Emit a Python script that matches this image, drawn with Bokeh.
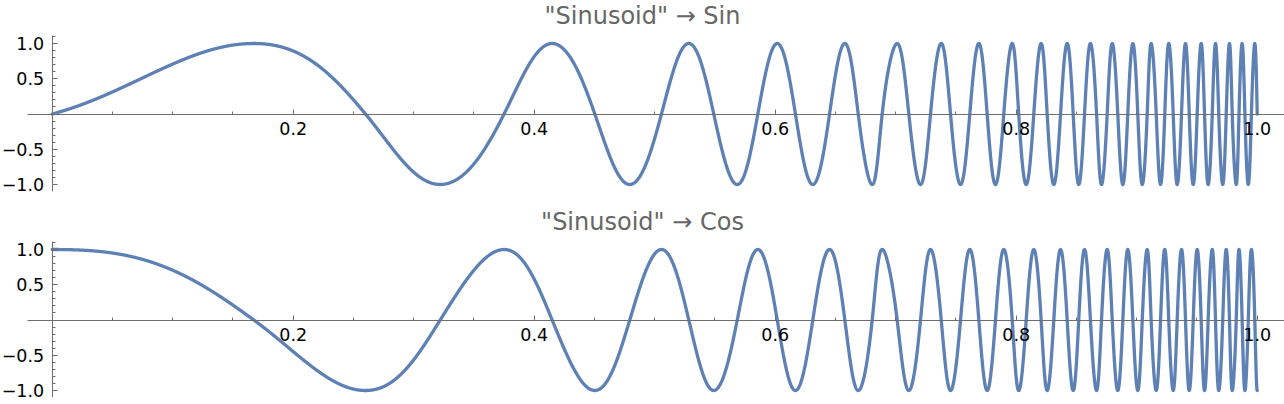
import numpy as np
from bokeh.plotting import figure
from bokeh.layouts import column
from bokeh.models import Range1d, FixedTicker, Label
from bokeh.embed import file_html
from bokeh.resources import INLINE

# ---- data ----
SIN_TITLE = '"Sinusoid" \u2192 Sin'
COS_TITLE = '"Sinusoid" \u2192 Cos'

# Sin panel: times of maxima, minima and zero crossings
SIN_PEAK_T = [0.1673, 0.4149, 0.5283, 0.6017, 0.6578, 0.7012, 0.7378, 0.7690,
              0.7967, 0.8207, 0.8423, 0.8616, 0.8797, 0.8968, 0.9120, 0.9266,
              0.9405, 0.9535, 0.9654, 0.9770, 0.9875, 0.9980]
SIN_TROUGH_T = [0.3220, 0.4793, 0.5685, 0.6312, 0.6805, 0.7206, 0.7538, 0.7828,
                0.8083, 0.8312, 0.8519, 0.8708, 0.8885, 0.9046, 0.9198, 0.9336,
                0.9469, 0.9593, 0.9714, 0.9826, 0.9926]
SIN_ZERO_T = [0.0, 0.2600, 0.3750, 0.4503, 0.5056, 0.5490, 0.5856, 0.6168,
              0.6451, 0.6689, 0.6888, 0.7109, 0.7289, 0.7455, 0.7615, 0.7759,
              0.7897, 0.8021, 0.8146, 0.8257, 0.8368, 0.8473, 0.8567, 0.8667,
              0.8755, 0.8843, 0.8926, 0.9009, 0.9087, 0.9162, 0.9233, 0.9303,
              0.9372, 0.9436, 0.9502, 0.9563, 0.9627, 0.9681, 0.9743, 0.9793,
              0.9849, 0.9898, 0.9952, 1.0]

# Cos panel: times of maxima, minima and zero crossings
COS_PEAK_T = [0.0, 0.3750, 0.5056, 0.5856, 0.6451, 0.6888, 0.7289, 0.7615,
              0.7897, 0.8146, 0.8368, 0.8567, 0.8755, 0.8926, 0.9087, 0.9233,
              0.9372, 0.9502, 0.9627, 0.9743, 0.9849, 0.9952]
COS_TROUGH_T = [0.2600, 0.4503, 0.5490, 0.6168, 0.6689, 0.7109, 0.7455, 0.7759,
                0.8021, 0.8257, 0.8473, 0.8667, 0.8843, 0.9009, 0.9162, 0.9303,
                0.9436, 0.9563, 0.9681, 0.9793, 0.9898, 1.0]
COS_ZERO_T = [0.1673, 0.3220, 0.4149, 0.4793, 0.5283, 0.5685, 0.6017, 0.6312,
              0.6578, 0.6805, 0.7012, 0.7206, 0.7378, 0.7538, 0.7690, 0.7828,
              0.7967, 0.8083, 0.8207, 0.8312, 0.8423, 0.8519, 0.8616, 0.8708,
              0.8797, 0.8885, 0.8968, 0.9046, 0.9120, 0.9198, 0.9266, 0.9336,
              0.9405, 0.9469, 0.9535, 0.9593, 0.9654, 0.9714, 0.9770, 0.9826,
              0.9875, 0.9926, 0.9980]
T_START = 0.0
T_END = 1.0

X_TICKS = [0.2, 0.4, 0.6, 0.8, 1.0]
X_LABELS = ["0.2", "0.4", "0.6", "0.8", "1.0"]
X_MINOR = [0.05, 0.1, 0.15, 0.25, 0.3, 0.35, 0.45, 0.5, 0.55, 0.65, 0.7, 0.75,
           0.85, 0.9, 0.95]
Y_TICKS = [-1.0, -0.5, 0.5, 1.0]
Y_LABELS = ["\u22121.0", "\u22120.5", "0.5", "1.0"]
Y_MINOR = [-1.1, -0.9, -0.8, -0.7, -0.6, -0.4, -0.3, -0.2, -0.1,
           0.1, 0.2, 0.3, 0.4, 0.6, 0.7, 0.8, 0.9, 1.1]

LINE_COLOR = "#5E81B5"
AXIS_COLOR = "#6e6e6e"
TITLE_COLOR = "#666666"


def pchip(xk, yk, x):
    xk = np.asarray(xk, float)
    yk = np.asarray(yk, float)
    h = np.diff(xk)
    d = np.diff(yk) / h
    n = len(xk)
    m = np.zeros(n)
    for i in range(1, n - 1):
        if d[i - 1] * d[i] > 0:
            w1 = 2 * h[i] + h[i - 1]
            w2 = h[i] + 2 * h[i - 1]
            m[i] = (w1 + w2) / (w1 / d[i - 1] + w2 / d[i])

    def end(h0, h1, d0, d1):
        v = ((2 * h0 + h1) * d0 - h0 * d1) / (h0 + h1)
        if np.sign(v) != np.sign(d0):
            v = 0.0
        elif np.sign(d0) != np.sign(d1) and abs(v) > 3 * abs(d0):
            v = 3 * d0
        return v

    m[0] = end(h[0], h[1], d[0], d[1])
    m[-1] = end(h[-1], h[-2], d[-1], d[-2])
    idx = np.clip(np.searchsorted(xk, x, side="right") - 1, 0, n - 2)
    hh = h[idx]
    s = (x - xk[idx]) / hh
    h00 = 2 * s**3 - 3 * s**2 + 1
    h10 = s**3 - 2 * s**2 + s
    h01 = -2 * s**3 + 3 * s**2
    h11 = s**3 - s**2
    return (h00 * yk[idx] + h10 * hh * m[idx] + h01 * yk[idx + 1]
            + h11 * hh * m[idx + 1])


def curve(node_t):
    nt = np.array(sorted(node_t))
    ph = np.arange(len(nt)) * (np.pi / 2)   # one quarter period per node
    t = np.union1d(np.linspace(T_START, T_END, 8001), nt)
    return t, pchip(nt, ph, t)


t_s, ph_s = curve(SIN_ZERO_T + SIN_PEAK_T + SIN_TROUGH_T)
y_s = np.sin(ph_s)
t_c, ph_c = curve(COS_PEAK_T + COS_ZERO_T + COS_TROUGH_T)
y_c = np.cos(ph_c)

# ---- layout (pixels) ----
PX_PER_UNIT_X = 1205.0
X0_PX = 51.7
X_START = -X0_PX / PX_PER_UNIT_X
X_END = (1284 - X0_PX) / PX_PER_UNIT_X
PX_PER_UNIT_Y = 70.5
Y0_PX = 113.5          # y = 0 from the top of each figure
FRAME_H = 191          # frame height in each figure
Y_END = Y0_PX / PX_PER_UNIT_Y
Y_START = -(FRAME_H - Y0_PX) / PX_PER_UNIT_Y
TITLE_MID_PX = 15.0    # vertical middle of the title from figure top
TITLE_Y = (Y0_PX - TITLE_MID_PX) / PX_PER_UNIT_Y


def panel(title, t, y, height):
    p = figure(width=1284, height=height, output_backend="svg",
               toolbar_location=None,
               x_range=Range1d(X_START, X_END), y_range=Range1d(Y_START, Y_END),
               min_border_left=0, min_border_right=0,
               min_border_top=0, min_border_bottom=height - FRAME_H)
    p.grid.visible = False
    p.outline_line_color = None
    p.background_fill_color = "white"
    p.border_fill_color = "white"

    p.line(t, y, line_width=3.3, color=LINE_COLOR,
           line_join="round", line_cap="round")

    p.add_layout(Label(x=(X_START + X_END) / 2, y=TITLE_Y, text=title,
                       text_align="center", text_baseline="middle",
                       text_font="DejaVu Sans", text_font_size="24px",
                       text_color=TITLE_COLOR))

    xa = p.xaxis[0]
    xa.fixed_location = 0
    xa.bounds = (-0.0205, X_END)
    xa.ticker = FixedTicker(ticks=X_TICKS, minor_ticks=X_MINOR)
    xa.major_label_overrides = dict(zip(X_TICKS, X_LABELS))
    xa.major_tick_in = 5
    xa.major_tick_out = 0
    xa.minor_tick_in = 3
    xa.minor_tick_out = 0
    xa.major_label_standoff = 8

    ya = p.yaxis[0]
    ya.fixed_location = 0
    ya.bounds = (-1.1, 1.113)
    ya.ticker = FixedTicker(ticks=Y_TICKS, minor_ticks=Y_MINOR)
    ya.major_label_overrides = dict(zip(Y_TICKS, Y_LABELS))
    ya.major_tick_in = 5
    ya.major_tick_out = 0
    ya.minor_tick_in = 3
    ya.minor_tick_out = 0
    ya.major_label_standoff = 8

    for ax in (xa, ya):
        ax.axis_line_color = AXIS_COLOR
        ax.major_tick_line_color = AXIS_COLOR
        ax.minor_tick_line_color = AXIS_COLOR
        ax.major_label_text_font = "DejaVu Sans"
        ax.major_label_text_font_size = "17.5px"
        ax.major_label_text_color = "black"
    return p


p1 = panel(SIN_TITLE, t_s, y_s, 206)
p2 = panel(COS_TITLE, t_c, y_c, 197)

layout = column(p1, p2, spacing=0)
open("out.html", "w").write(file_html(layout, INLINE))
